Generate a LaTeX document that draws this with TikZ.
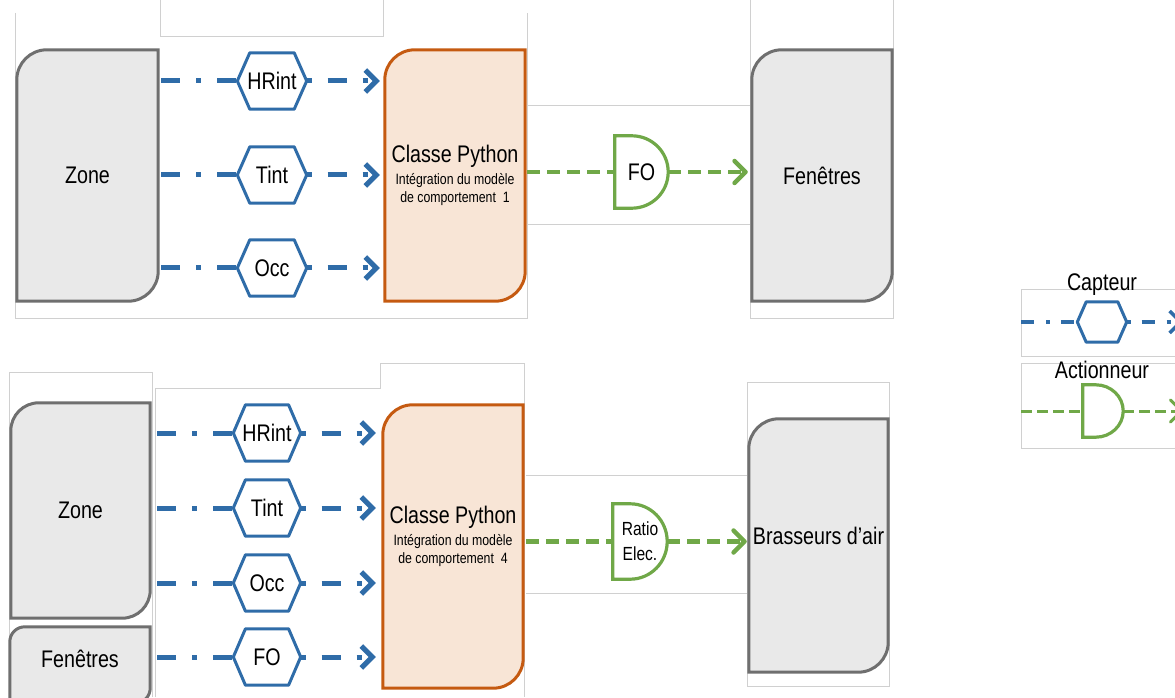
\documentclass[tikz,border=0pt]{standalone}
\usepackage{fontspec}
\setmainfont{Liberation Sans}[FakeStretch=0.82]
\usetikzlibrary{arrows.meta,calc}
\pgfdeclarelayer{bg}
\pgfsetlayers{bg,main}
\definecolor{capblue}{RGB}{47,108,168}
\definecolor{actgreen}{RGB}{112,168,72}
\definecolor{cardgrey}{RGB}{111,111,111}
\definecolor{cardfill}{RGB}{233,233,233}
\definecolor{pyline}{RGB}{197,90,17}
\definecolor{pyfill}{RGB}{248,229,214}
\definecolor{framegrey}{RGB}{208,208,208}

\begin{document}
\begin{tikzpicture}[x=1pt, y=1pt,
  every node/.style={font=\fontsize{24}{22}\selectfont, inner sep=0pt},
  card/.style={minimum width=140pt, minimum height=251pt},
  greycard/.style={draw=cardgrey, fill=cardfill, line width=3pt},
  pycard/.style={draw=pyline, fill=pyfill, line width=3pt},
  sensor/.style={minimum width=69pt, minimum height=56pt},
  sensorline/.style={draw=capblue, line width=3pt, line join=round},
  act/.style={minimum width=53pt, minimum height=72pt},
  actline/.style={draw=actgreen, line width=3.2pt},
  caplink/.style={capblue, line width=5pt, dash pattern=on 19pt off 16pt on 5pt off 16pt},
  caparrow/.style={caplink, dash phase=35pt, -{Straight Barb[length=11pt,width=22pt]}},
  actlink/.style={actgreen, line width=4.5pt, dash pattern=on 13pt off 7pt},
  actarrow/.style={actlink, -{Straight Barb[length=11pt,width=22pt,round]}},
  frame/.style={draw=framegrey, line width=0.8pt}
]
\useasboundingbox (0,0) rectangle (1175,697);

% top: modele 1
\node[card, minimum width=141pt] (zonea) at (87.5,521.5) {Zone};
\node[card, align=center] (pya) at (455,521.5) {Classe Python\\{\fontsize{15}{18}\selectfont Intégration du modèle}\\[-4pt]{\fontsize{15}{18}\selectfont de comportement\ \ 1}};
\node[card] (fena) at (822,521.5) {Fenêtres};
\node[sensor] (hra) at (272,616) {HRint};
\node[sensor] (tia) at (272,522) {Tint};
\node[sensor] (oca) at (272,429) {Occ};
\node[act] (foa) at (641.5,525) {FO};

% bottom: modele 4
\node[card, minimum width=139pt, minimum height=215pt] (zoneb) at (80.5,186.5) {Zone};
\node[card, minimum height=76pt, label={[yshift=6pt]center:Fenêtres}] (fenb) at (80,32) {};
\node[card, minimum height=283pt, label={[align=center, yshift=10.5pt]center:{Classe Python\\{\fontsize{15}{18}\selectfont Intégration du modèle}\\[-4pt]{\fontsize{15}{18}\selectfont de comportement\ \ 4}}}] (pyb) at (453,150.5) {};
\node[card, minimum width=139pt, minimum height=253pt, label={[yshift=9.5pt]center:Brasseurs d’air}] (brab) at (818.5,151.5) {};
\node[sensor, minimum width=67pt] (hrb) at (267,264) {HRint};
\node[sensor, minimum width=67pt] (tib) at (267,189) {Tint};
\node[sensor, minimum width=67pt] (ocb) at (267,114) {Occ};
\node[sensor, minimum width=67pt] (fob) at (267,40) {FO};
\node[act, minimum width=54pt, minimum height=75pt, align=center, font=\fontsize{19}{25}\selectfont] (rab) at (640,155.5) {Ratio\\Elec.};

% legende
\node (tcap) at (1102,412) {Capteur};
\node (tact) at (1102,327) {Actionneur};
\node[sensor, minimum width=49pt, minimum height=40pt] (lcap) at (1102,375) {};
\node[act, minimum width=40pt, minimum height=52pt] (lact) at (1103,286) {};
\coordinate (lcapin) at (1021,375);
\coordinate (lcapout) at (1183,375);
\coordinate (lactin) at (1021,286);
\coordinate (lactout) at (1183,286);

\begin{pgfonlayer}{bg}
\draw[frame] (15,684) -- (15,379) -- (527,379) -- (527,684);
\draw[frame] (160,697) -- (160,661) -- (383,661) -- (383,697);
\draw[frame] (527,592) -- (750,592) (527,473) -- (750,473);
\draw[frame] (750,697) -- (750,379) -- (893,379) -- (893,697);
\draw[frame] (9,0) -- (9,325) -- (152,325) -- (152,0);
\draw[frame] (155,0) -- (155,309) -- (380,309) -- (380,334) -- (524,334) -- (524,0);
\draw[frame] (526,222) -- (748,222) (526,104) -- (748,104);
\draw[frame] (747,11) rectangle (889,315);
\draw[frame] (1175,408) -- (1021,408) -- (1021,341) -- (1175,341);
\draw[frame] (1175,334) -- (1021,334) -- (1021,249) -- (1175,249);
\foreach \n/\r in {zonea/30,fena/30,zoneb/28,fenb/15,brab/30}
  \draw[greycard] (\n.south west) -- ([yshift=-\r*1pt]\n.north west) arc[start angle=180,end angle=90,radius=\r] -- (\n.north east) -- ([yshift=\r*1pt]\n.south east) arc[start angle=0,end angle=-90,radius=\r] -- cycle;
\foreach \n in {pya,pyb}
  \draw[pycard] (\n.south west) -- ([yshift=-30pt]\n.north west) arc[start angle=180,end angle=90,radius=30] -- (\n.north east) -- ([yshift=30pt]\n.south east) arc[start angle=0,end angle=-90,radius=30] -- cycle;
\end{pgfonlayer}

% capteurs et actionneurs
\foreach \n in {hra,tia,oca,hrb,tib,ocb,fob,lcap}
  \draw[sensorline] (\n.west) -- ($(\n.north west)!.18!(\n.north east)$) -- ($(\n.north west)!.82!(\n.north east)$) -- (\n.east) -- ($(\n.south west)!.82!(\n.south east)$) -- ($(\n.south west)!.18!(\n.south east)$) -- cycle;
\foreach \n in {foa,rab,lact}
  \draw[actline] (\n.south west) -- (\n.north west) -- ($(\n.north west)!.32!(\n.north east)$) .. controls ($(\n.north west)!.6957!(\n.north east)$) and ($(\n.east)!.5523!(\n.north east)$) .. (\n.east) .. controls ($(\n.east)!.5523!(\n.south east)$) and ($(\n.south west)!.6957!(\n.south east)$) .. ($(\n.south west)!.32!(\n.south east)$) -- cycle;

% liens
\foreach \s in {hra,tia,oca} {
  \draw[caplink, shorten <=3pt] (zonea.east |- \s.west) -- (\s.west);
  \draw[caparrow, shorten >=5pt] (\s.east) -- (pya.west |- \s.east);
}
\draw[actlink, shorten <=2pt] (pya.east |- foa.west) -- (foa.west);
\draw[actarrow, shorten >=4pt] (foa.east) -- (fena.west |- foa.east);

\foreach \s/\src in {hrb/zoneb,tib/zoneb,ocb/zoneb,fob/fenb} {
  \draw[caplink, shorten <=7pt] (\src.east |- \s.west) -- (\s.west);
  \draw[caparrow, shorten >=7pt] (\s.east) -- (pyb.west |- \s.east);
}
\draw[actlink, shorten <=3pt] (pyb.east |- rab.west) -- (rab.west);
\draw[actarrow, shorten >=2pt] (rab.east) -- (brab.west |- rab.east);

\draw[caplink, line width=3.5pt, dash pattern=on 13pt off 12pt on 4pt off 11pt] (lcapin) -- (lcap.west);
\draw[caparrow, line width=3.5pt, dash pattern=on 13pt off 12pt on 4pt off 11pt, dash phase=25pt] (lcap.east) -- (lcapout);
\draw[actlink, line width=3pt, dash pattern=on 11pt off 5pt] (lactin) -- (lact.west);
\draw[actarrow, line width=3pt, dash pattern=on 11pt off 5pt] (lact.east) -- (lactout);
\end{tikzpicture}
\end{document}
